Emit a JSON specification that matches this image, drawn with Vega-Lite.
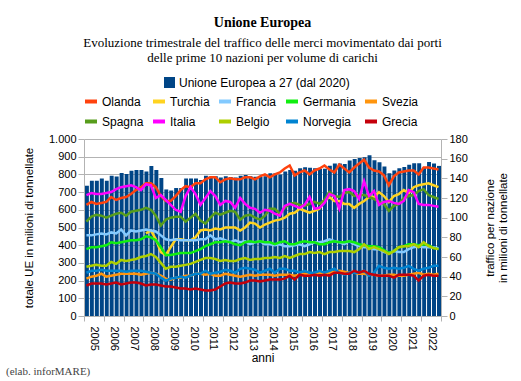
{
  "$schema": "https://vega.github.io/schema/vega-lite/v6.json",
  "padding": {"left": 5, "top": 16, "right": 5, "bottom": 3},
  "background": "white",
  "title": {"text": "(elab. inforMARE)", "orient": "bottom", "anchor": "start", "frame": "bounds", "font": "Liberation Serif", "fontSize": 11, "fontWeight": "normal", "color": "#444444", "dx": -17.5, "offset": 3},
  "vconcat": [
    {
      "width": 357,
      "height": 177,
      "title": {
        "text": "Unione Europea",
        "subtitle": ["Evoluzione trimestrale del traffico delle merci movimentato dai porti", "delle prime 10 nazioni per volume di carichi"],
        "anchor": "middle", "frame": "group",
        "font": "Liberation Serif", "fontSize": 14, "fontWeight": "bold", "color": "#000000",
        "subtitleFont": "Liberation Serif", "subtitleFontSize": 13, "subtitleColor": "#000000", "subtitleLineHeight": 15, "subtitlePadding": 7,
        "offset": 68
      },
      "data": {"values": [
        {"d":"2005-01-01","UE27":736,"Olanda":113,"Turchia":null,"Francia":82,"Germania":68,"Svezia":38,"Spagna":96,"Italia":123,"Belgio":50,"Norvegia":44,"Grecia":31},
        {"d":"2005-04-01","UE27":764,"Olanda":116,"Turchia":null,"Francia":82,"Germania":70,"Svezia":40,"Spagna":101,"Italia":125,"Belgio":51,"Norvegia":46,"Grecia":33},
        {"d":"2005-07-01","UE27":764,"Olanda":114,"Turchia":null,"Francia":83,"Germania":70,"Svezia":41,"Spagna":103,"Italia":124,"Belgio":52,"Norvegia":46,"Grecia":33},
        {"d":"2005-10-01","UE27":777,"Olanda":115,"Turchia":null,"Francia":84,"Germania":71,"Svezia":43,"Spagna":102,"Italia":124,"Belgio":51,"Norvegia":47,"Grecia":33},
        {"d":"2006-01-01","UE27":764,"Olanda":116,"Turchia":null,"Francia":83,"Germania":72,"Svezia":40,"Spagna":100,"Italia":125,"Belgio":51,"Norvegia":46,"Grecia":32},
        {"d":"2006-04-01","UE27":792,"Olanda":121,"Turchia":null,"Francia":85,"Germania":75,"Svezia":41,"Spagna":102,"Italia":126,"Belgio":55,"Norvegia":46,"Grecia":33},
        {"d":"2006-07-01","UE27":788,"Olanda":118,"Turchia":null,"Francia":84,"Germania":74,"Svezia":42,"Spagna":104,"Italia":129,"Belgio":53,"Norvegia":46,"Grecia":34},
        {"d":"2006-10-01","UE27":808,"Olanda":120,"Turchia":null,"Francia":88,"Germania":75,"Svezia":43,"Spagna":105,"Italia":131,"Belgio":57,"Norvegia":46,"Grecia":32},
        {"d":"2007-01-01","UE27":802,"Olanda":121,"Turchia":null,"Francia":82,"Germania":76,"Svezia":43,"Spagna":102,"Italia":132,"Belgio":56,"Norvegia":45,"Grecia":33},
        {"d":"2007-04-01","UE27":821,"Olanda":124,"Turchia":null,"Francia":87,"Germania":77,"Svezia":43,"Spagna":106,"Italia":133,"Belgio":57,"Norvegia":46,"Grecia":34},
        {"d":"2007-07-01","UE27":825,"Olanda":128,"Turchia":null,"Francia":86,"Germania":77,"Svezia":43,"Spagna":107,"Italia":131,"Belgio":58,"Norvegia":46,"Grecia":34},
        {"d":"2007-10-01","UE27":825,"Olanda":131,"Turchia":null,"Francia":87,"Germania":78,"Svezia":42,"Spagna":108,"Italia":128,"Belgio":60,"Norvegia":46,"Grecia":33},
        {"d":"2008-01-01","UE27":817,"Olanda":135,"Turchia":84,"Francia":88,"Germania":81,"Svezia":43,"Spagna":110,"Italia":134,"Belgio":61,"Norvegia":45,"Grecia":31},
        {"d":"2008-04-01","UE27":847,"Olanda":135,"Turchia":87,"Francia":87,"Germania":80,"Svezia":44,"Spagna":108,"Italia":133,"Belgio":63,"Norvegia":44,"Grecia":32},
        {"d":"2008-07-01","UE27":825,"Olanda":131,"Turchia":78,"Francia":86,"Germania":77,"Svezia":43,"Spagna":102,"Italia":120,"Belgio":60,"Norvegia":43,"Grecia":32},
        {"d":"2008-10-01","UE27":779,"Olanda":122,"Turchia":65,"Francia":82,"Germania":70,"Svezia":41,"Spagna":92,"Italia":123,"Belgio":54,"Norvegia":39,"Grecia":31},
        {"d":"2009-01-01","UE27":715,"Olanda":117,"Turchia":62,"Francia":78,"Germania":62,"Svezia":38,"Spagna":98,"Italia":118,"Belgio":48,"Norvegia":36,"Grecia":30},
        {"d":"2009-04-01","UE27":709,"Olanda":117,"Turchia":70,"Francia":77,"Germania":62,"Svezia":37,"Spagna":100,"Italia":113,"Belgio":50,"Norvegia":38,"Grecia":30},
        {"d":"2009-07-01","UE27":723,"Olanda":122,"Turchia":78,"Francia":78,"Germania":63,"Svezia":39,"Spagna":101,"Italia":108,"Belgio":50,"Norvegia":39,"Grecia":29},
        {"d":"2009-10-01","UE27":723,"Olanda":128,"Turchia":78,"Francia":77,"Germania":64,"Svezia":39,"Spagna":101,"Italia":106,"Belgio":51,"Norvegia":40,"Grecia":28},
        {"d":"2010-01-01","UE27":777,"Olanda":132,"Turchia":77,"Francia":77,"Germania":64,"Svezia":41,"Spagna":96,"Italia":122,"Belgio":52,"Norvegia":39,"Grecia":28},
        {"d":"2010-04-01","UE27":777,"Olanda":131,"Turchia":77,"Francia":77,"Germania":64,"Svezia":41,"Spagna":100,"Italia":131,"Belgio":53,"Norvegia":41,"Grecia":27},
        {"d":"2010-07-01","UE27":777,"Olanda":135,"Turchia":80,"Francia":77,"Germania":66,"Svezia":43,"Spagna":104,"Italia":124,"Belgio":55,"Norvegia":43,"Grecia":28},
        {"d":"2010-10-01","UE27":768,"Olanda":135,"Turchia":87,"Francia":78,"Germania":68,"Svezia":43,"Spagna":97,"Italia":113,"Belgio":57,"Norvegia":43,"Grecia":27},
        {"d":"2011-01-01","UE27":792,"Olanda":139,"Turchia":88,"Francia":78,"Germania":71,"Svezia":42,"Spagna":94,"Italia":120,"Belgio":59,"Norvegia":46,"Grecia":26},
        {"d":"2011-04-01","UE27":788,"Olanda":141,"Turchia":87,"Francia":82,"Germania":73,"Svezia":43,"Spagna":100,"Italia":127,"Belgio":59,"Norvegia":43,"Grecia":26},
        {"d":"2011-07-01","UE27":790,"Olanda":141,"Turchia":89,"Francia":78,"Germania":75,"Svezia":41,"Spagna":105,"Italia":122,"Belgio":58,"Norvegia":44,"Grecia":27},
        {"d":"2011-10-01","UE27":782,"Olanda":136,"Turchia":88,"Francia":79,"Germania":75,"Svezia":41,"Spagna":103,"Italia":113,"Belgio":56,"Norvegia":45,"Grecia":30},
        {"d":"2012-01-01","UE27":790,"Olanda":139,"Turchia":90,"Francia":77,"Germania":76,"Svezia":43,"Spagna":105,"Italia":117,"Belgio":57,"Norvegia":47,"Grecia":33},
        {"d":"2012-04-01","UE27":785,"Olanda":140,"Turchia":90,"Francia":75,"Germania":75,"Svezia":42,"Spagna":107,"Italia":116,"Belgio":56,"Norvegia":46,"Grecia":34},
        {"d":"2012-07-01","UE27":782,"Olanda":139,"Turchia":90,"Francia":77,"Germania":73,"Svezia":41,"Spagna":106,"Italia":110,"Belgio":56,"Norvegia":44,"Grecia":33},
        {"d":"2012-10-01","UE27":792,"Olanda":139,"Turchia":87,"Francia":75,"Germania":72,"Svezia":40,"Spagna":98,"Italia":120,"Belgio":58,"Norvegia":48,"Grecia":33},
        {"d":"2013-01-01","UE27":796,"Olanda":141,"Turchia":90,"Francia":76,"Germania":75,"Svezia":41,"Spagna":102,"Italia":114,"Belgio":59,"Norvegia":49,"Grecia":34},
        {"d":"2013-04-01","UE27":790,"Olanda":141,"Turchia":95,"Francia":73,"Germania":76,"Svezia":42,"Spagna":103,"Italia":110,"Belgio":57,"Norvegia":48,"Grecia":36},
        {"d":"2013-07-01","UE27":787,"Olanda":139,"Turchia":94,"Francia":75,"Germania":75,"Svezia":41,"Spagna":100,"Italia":109,"Belgio":58,"Norvegia":47,"Grecia":36},
        {"d":"2013-10-01","UE27":786,"Olanda":142,"Turchia":90,"Francia":76,"Germania":76,"Svezia":42,"Spagna":98,"Italia":105,"Belgio":58,"Norvegia":44,"Grecia":35},
        {"d":"2014-01-01","UE27":790,"Olanda":144,"Turchia":93,"Francia":73,"Germania":75,"Svezia":42,"Spagna":102,"Italia":108,"Belgio":59,"Norvegia":46,"Grecia":36},
        {"d":"2014-04-01","UE27":806,"Olanda":141,"Turchia":95,"Francia":73,"Germania":75,"Svezia":42,"Spagna":109,"Italia":107,"Belgio":59,"Norvegia":48,"Grecia":37},
        {"d":"2014-07-01","UE27":806,"Olanda":144,"Turchia":97,"Francia":72,"Germania":73,"Svezia":41,"Spagna":109,"Italia":104,"Belgio":60,"Norvegia":44,"Grecia":37},
        {"d":"2014-10-01","UE27":800,"Olanda":146,"Turchia":98,"Francia":73,"Germania":75,"Svezia":42,"Spagna":104,"Italia":102,"Belgio":59,"Norvegia":48,"Grecia":37},
        {"d":"2015-01-01","UE27":817,"Olanda":150,"Turchia":100,"Francia":71,"Germania":76,"Svezia":42,"Spagna":110,"Italia":112,"Belgio":61,"Norvegia":48,"Grecia":38},
        {"d":"2015-04-01","UE27":825,"Olanda":153,"Turchia":104,"Francia":71,"Germania":73,"Svezia":42,"Spagna":114,"Italia":114,"Belgio":59,"Norvegia":46,"Grecia":41},
        {"d":"2015-07-01","UE27":820,"Olanda":143,"Turchia":105,"Francia":72,"Germania":73,"Svezia":41,"Spagna":115,"Italia":112,"Belgio":61,"Norvegia":46,"Grecia":37},
        {"d":"2015-10-01","UE27":835,"Olanda":146,"Turchia":109,"Francia":73,"Germania":75,"Svezia":42,"Spagna":113,"Italia":110,"Belgio":63,"Norvegia":44,"Grecia":42},
        {"d":"2016-01-01","UE27":840,"Olanda":148,"Turchia":107,"Francia":71,"Germania":76,"Svezia":43,"Spagna":112,"Italia":113,"Belgio":63,"Norvegia":46,"Grecia":41},
        {"d":"2016-04-01","UE27":838,"Olanda":144,"Turchia":105,"Francia":73,"Germania":75,"Svezia":42,"Spagna":114,"Italia":121,"Belgio":65,"Norvegia":44,"Grecia":41},
        {"d":"2016-07-01","UE27":835,"Olanda":148,"Turchia":107,"Francia":75,"Germania":75,"Svezia":43,"Spagna":116,"Italia":109,"Belgio":64,"Norvegia":44,"Grecia":42},
        {"d":"2016-10-01","UE27":830,"Olanda":150,"Turchia":109,"Francia":75,"Germania":73,"Svezia":44,"Spagna":114,"Italia":110,"Belgio":65,"Norvegia":46,"Grecia":41},
        {"d":"2017-01-01","UE27":832,"Olanda":153,"Turchia":117,"Francia":76,"Germania":73,"Svezia":44,"Spagna":118,"Italia":115,"Belgio":63,"Norvegia":44,"Grecia":42},
        {"d":"2017-04-01","UE27":849,"Olanda":149,"Turchia":121,"Francia":78,"Germania":75,"Svezia":44,"Spagna":126,"Italia":124,"Belgio":65,"Norvegia":46,"Grecia":41},
        {"d":"2017-07-01","UE27":862,"Olanda":146,"Turchia":117,"Francia":76,"Germania":76,"Svezia":45,"Spagna":122,"Italia":122,"Belgio":65,"Norvegia":48,"Grecia":44},
        {"d":"2017-10-01","UE27":862,"Olanda":154,"Turchia":117,"Francia":75,"Germania":75,"Svezia":46,"Spagna":121,"Italia":109,"Belgio":66,"Norvegia":44,"Grecia":44},
        {"d":"2018-01-01","UE27":859,"Olanda":150,"Turchia":114,"Francia":73,"Germania":75,"Svezia":45,"Spagna":125,"Italia":128,"Belgio":66,"Norvegia":42,"Grecia":43},
        {"d":"2018-04-01","UE27":878,"Olanda":146,"Turchia":114,"Francia":76,"Germania":76,"Svezia":44,"Spagna":126,"Italia":129,"Belgio":66,"Norvegia":44,"Grecia":43},
        {"d":"2018-07-01","UE27":887,"Olanda":151,"Turchia":110,"Francia":73,"Germania":75,"Svezia":44,"Spagna":122,"Italia":127,"Belgio":65,"Norvegia":44,"Grecia":46},
        {"d":"2018-10-01","UE27":893,"Olanda":155,"Turchia":114,"Francia":71,"Germania":73,"Svezia":43,"Spagna":123,"Italia":119,"Belgio":68,"Norvegia":44,"Grecia":44},
        {"d":"2019-01-01","UE27":897,"Olanda":159,"Turchia":117,"Francia":70,"Germania":72,"Svezia":43,"Spagna":123,"Italia":137,"Belgio":73,"Norvegia":46,"Grecia":46},
        {"d":"2019-04-01","UE27":908,"Olanda":151,"Turchia":121,"Francia":70,"Germania":71,"Svezia":42,"Spagna":121,"Italia":122,"Belgio":68,"Norvegia":41,"Grecia":43},
        {"d":"2019-07-01","UE27":880,"Olanda":148,"Turchia":121,"Francia":68,"Germania":71,"Svezia":42,"Spagna":119,"Italia":127,"Belgio":70,"Norvegia":44,"Grecia":42},
        {"d":"2019-10-01","UE27":868,"Olanda":147,"Turchia":126,"Francia":68,"Germania":70,"Svezia":41,"Spagna":116,"Italia":113,"Belgio":68,"Norvegia":51,"Grecia":41},
        {"d":"2020-01-01","UE27":845,"Olanda":143,"Turchia":122,"Francia":65,"Germania":67,"Svezia":41,"Spagna":114,"Italia":116,"Belgio":66,"Norvegia":49,"Grecia":41},
        {"d":"2020-04-01","UE27":806,"Olanda":133,"Turchia":116,"Francia":64,"Germania":64,"Svezia":42,"Spagna":107,"Italia":117,"Belgio":63,"Norvegia":48,"Grecia":41},
        {"d":"2020-07-01","UE27":822,"Olanda":142,"Turchia":122,"Francia":66,"Germania":66,"Svezia":42,"Spagna":112,"Italia":115,"Belgio":66,"Norvegia":49,"Grecia":39},
        {"d":"2020-10-01","UE27":835,"Olanda":146,"Turchia":124,"Francia":65,"Germania":70,"Svezia":41,"Spagna":114,"Italia":114,"Belgio":70,"Norvegia":48,"Grecia":42},
        {"d":"2021-01-01","UE27":842,"Olanda":147,"Turchia":128,"Francia":65,"Germania":71,"Svezia":41,"Spagna":120,"Italia":117,"Belgio":71,"Norvegia":49,"Grecia":42},
        {"d":"2021-04-01","UE27":855,"Olanda":148,"Turchia":125,"Francia":68,"Germania":73,"Svezia":42,"Spagna":122,"Italia":128,"Belgio":71,"Norvegia":51,"Grecia":42},
        {"d":"2021-07-01","UE27":863,"Olanda":148,"Turchia":131,"Francia":70,"Germania":73,"Svezia":43,"Spagna":123,"Italia":126,"Belgio":73,"Norvegia":48,"Grecia":41},
        {"d":"2021-10-01","UE27":863,"Olanda":144,"Turchia":133,"Francia":71,"Germania":72,"Svezia":44,"Spagna":127,"Italia":114,"Belgio":70,"Norvegia":46,"Grecia":36},
        {"d":"2022-01-01","UE27":838,"Olanda":151,"Turchia":134,"Francia":70,"Germania":73,"Svezia":42,"Spagna":129,"Italia":113,"Belgio":75,"Norvegia":48,"Grecia":41},
        {"d":"2022-04-01","UE27":870,"Olanda":151,"Turchia":135,"Francia":70,"Germania":72,"Svezia":43,"Spagna":123,"Italia":113,"Belgio":71,"Norvegia":49,"Grecia":42},
        {"d":"2022-07-01","UE27":861,"Olanda":150,"Turchia":133,"Francia":70,"Germania":69,"Svezia":42,"Spagna":121,"Italia":112,"Belgio":69,"Norvegia":51,"Grecia":41},
        {"d":"2022-10-01","UE27":848,"Olanda":149,"Turchia":131,"Francia":69,"Germania":68,"Svezia":43,"Spagna":119,"Italia":111,"Belgio":68,"Norvegia":51,"Grecia":41}
      ]},
      "layer": [
        {
          "mark": {"type": "bar", "timeUnitBandSize": 0.76, "timeUnitBandPosition": 0.12},
          "encoding": {
            "x": {
              "field": "d", "type": "temporal", "timeUnit": "utcyearquarter", "title": "anni",
              "scale": {"domain": [{"year": 2005, "month": 1, "date": 1, "utc": true}, {"year": 2023, "month": 1, "date": 1, "utc": true}]},
              "axis": {
                "tickCount": {"interval": "year", "step": 1},
                "labelExpr": "utcyear(datum.value) > 2022 ? '' : utcFormat(datum.value, '%Y')",
                "labelAngle": 90, "labelAlign": "left", "labelBaseline": "middle",
                "labelOffset": 9.92, "labelPadding": 5, "tickSize": 5,
                "labelFlush": false, "labelOverlap": false, "grid": false,
                "titlePadding": 2, "titleFontSize": 12
              }
            },
            "y": {
              "field": "UE27", "type": "quantitative",
              "scale": {"domain": [0, 1000]},
              "axis": {
                "orient": "left", "title": "totale UE in milioni di tonnellate",
                "values": [0, 100, 200, 300, 400, 500, 600, 700, 800, 900, 1000],
                "labelExpr": "replace(format(datum.value, ',d'), ',', '.')",
                "grid": true, "tickSize": 6, "labelPadding": 2, "titlePadding": 14, "titleFontSize": 11.5
              }
            },
            "fill": {
              "datum": "Unione Europea a 27 (dal 2020)", "type": "nominal",
              "scale": {"range": ["#004586"]},
              "legend": {"orient": "none", "legendX": 79, "legendY": -63, "title": null, "symbolType": "square", "symbolSize": 121, "labelOffset": 3, "labelLimit": 400}
            }
          }
        },
        {
          "transform": [{"fold": ["Olanda", "Turchia", "Francia", "Germania", "Svezia", "Spagna", "Italia", "Belgio", "Norvegia", "Grecia"], "as": ["paese", "valore"]}],
          "mark": {"type": "line", "strokeWidth": 2.5},
          "encoding": {
            "x": {"field": "d", "type": "temporal", "timeUnit": "utcyearquarter", "bandPosition": 0.5},
            "y": {
              "field": "valore", "type": "quantitative",
              "scale": {"domain": [0, 180]},
              "axis": {
                "orient": "right", "title": ["traffico per nazione", "in milioni di tonnellate"],
                "values": [0, 20, 40, 60, 80, 100, 120, 140, 160, 180],
                "grid": false, "tickSize": 6, "labelPadding": 2,
                "titleAngle": -90, "titleBaseline": "top", "titlePadding": 4, "titleFontSize": 11.5, "titleLineHeight": 13
              }
            },
            "stroke": {
              "field": "paese", "type": "nominal",
              "scale": {
                "domain": ["Olanda", "Turchia", "Francia", "Germania", "Svezia", "Spagna", "Italia", "Belgio", "Norvegia", "Grecia"],
                "range": ["#ff420e", "#ffd320", "#83caff", "#11ee11", "#ff950e", "#579d1c", "#ff00ff", "#aecf00", "#0084d1", "#c5000b"]
              },
              "legend": {"orient": "none", "direction": "horizontal", "legendX": -1, "legendY": -45.5, "title": null, "columns": 5, "symbolType": "stroke", "symbolSize": 144, "symbolStrokeWidth": 4, "labelOffset": 3, "columnPadding": 1, "rowPadding": 4, "labelLimit": 200}
            }
          }
        }
      ],
      "resolve": {"scale": {"y": "independent"}}
    }
  ],
  "config": {
    "font": "Liberation Sans",
    "view": {"stroke": null},
    "axis": {
      "labelFont": "Liberation Sans", "labelFontSize": 11, "labelColor": "#000000",
      "titleFont": "Liberation Sans", "titleFontWeight": "normal", "titleColor": "#000000",
      "domainColor": "#b3b3b3", "tickColor": "#b3b3b3", "gridColor": "#b3b3b3"
    },
    "legend": {"labelFont": "Liberation Sans", "labelFontSize": 12, "labelColor": "#000000", "padding": 0}
  }
}
